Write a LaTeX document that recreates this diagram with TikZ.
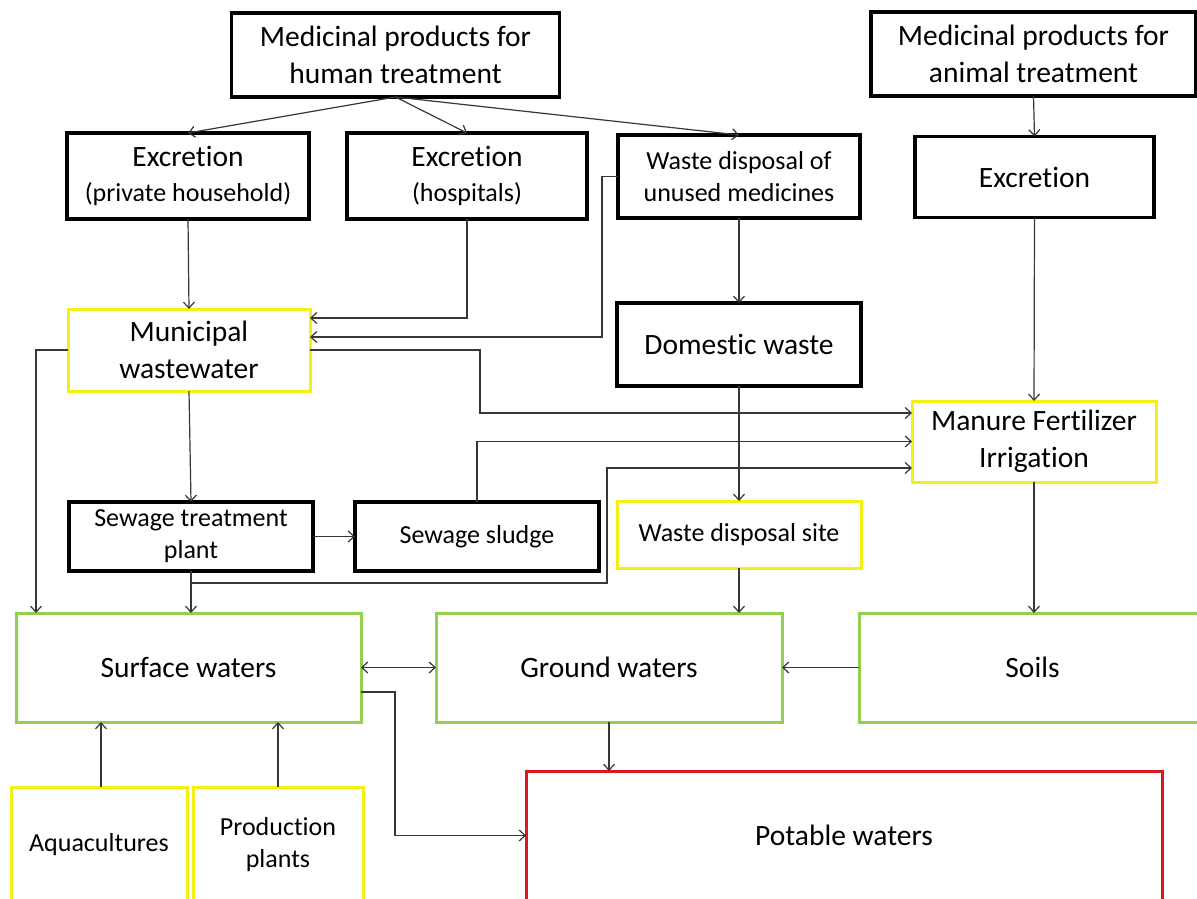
\documentclass[tikz,border=0pt]{standalone}
\usepackage{fontspec}
\setmainfont{Carlito}[Ligatures=NoCommon]
\usepackage{tikz}
\usetikzlibrary{arrows.meta, positioning}

\definecolor{boxyellow}{RGB}{245,240,20}
\definecolor{boxgreen}{RGB}{146,208,80}
\definecolor{boxred}{RGB}{218,24,32}
\definecolor{connc}{RGB}{55,55,55}

\newcommand{\bigtxt}{\fontsize{29.5}{37}\selectfont}
\newcommand{\smalltxt}{\fontsize{26}{32}\selectfont}

\begin{document}
\begin{tikzpicture}[x=1pt, y=-1pt, >={Straight Barb[length=6pt,width=11pt]},
		box/.style={rectangle, inner sep=0pt, outer sep=0pt, align=center, font=\bigtxt},
		blk/.style={box, draw=black, line width=3.2pt},
		ylw/.style={box, draw=boxyellow, line width=3pt},
		grn/.style={box, draw=boxgreen, line width=3pt},
		rdb/.style={box, draw=boxred, line width=3pt},
		small/.style={font=\smalltxt},
		conn/.style={draw=connc, line width=1.2pt, ->}]
		
		\fill[white] (0,0) rectangle (1197,899);
		\clip (0,0) rectangle (1197,899);
		
		% Riga superiore
		\node [blk, minimum width=328pt, minimum height=84pt] (hum) at (395.5,55) {Medicinal products for\\human treatment};
		\node [blk, minimum width=325pt, minimum height=84pt] (ani) at (1033.5,54) {Medicinal products for\\animal treatment};
		
		% Escrezione e smaltimento
		\node [blk, minimum width=242pt, minimum height=86pt] (exhh) at (188,176) {Excretion\\[-2pt]{\smalltxt (private household)}};
		\node [blk, minimum width=240pt, minimum height=86pt] (exhosp) at (467,176) {Excretion\\[-2pt]{\smalltxt (hospitals)}};
		\node [blk, small, minimum width=242pt, minimum height=83pt] (wdum) at (739,176.5) {Waste disposal of\\unused medicines};
		\node [blk, minimum width=239pt, minimum height=81pt] (exani) at (1034.5,177) {Excretion};
		
		% Nodi centrali
		\node [ylw, minimum width=242pt, minimum height=82pt] (mww) at (189,350) {Municipal\\wastewater};
		\node [blk, minimum width=244pt, minimum height=83pt] (dom) at (739,344.5) {Domestic waste};
		\node [ylw, minimum width=244pt, minimum height=81pt] (man) at (1034,441.5) {Manure Fertilizer\\Irrigation};
		\node [blk, small, minimum width=244pt, minimum height=69pt] (stp) at (191,536.5) {Sewage treatment\\plant};
		\node [blk, small, minimum width=244pt, minimum height=69pt] (slu) at (477,536.5) {Sewage sludge};
		\node [ylw, small, minimum width=244pt, minimum height=67pt] (wds) at (739,534.5) {Waste disposal site};
		
		% Acque e suoli
		\node [grn, minimum width=345pt, minimum height=109pt] (sur) at (188.5,667.5) {Surface waters};
		\node [grn, minimum width=346pt, minimum height=109pt] (gro) at (609,667.5) {Ground waters};
		\node [grn, minimum width=347pt, minimum height=109pt] (soi) at (1032.5,667.5) {Soils};
		
		% Riga inferiore
		\node [ylw, small, minimum width=176pt, minimum height=116pt] (aqu) at (99,845) {Aquacultures};
		\node [ylw, small, minimum width=170pt, minimum height=116pt] (pro) at (278,845) {Production\\plants};
		\node [rdb, minimum width=636pt, minimum height=129pt] (pot) at (844,835.5) {Potable waters};
		
		% Collegamenti dall'alto
		\draw [conn] (hum.south) -- (exhh.north);
		\draw [conn] (hum.south) -- (exhosp.north);
		\draw [conn] (hum.south) -- (wdum.north);
		\draw [conn] (ani.south) -- (exani.north);
		
		% Verso le acque reflue
		\draw [conn] (exhh.south) -- (mww.north);
		\draw [conn] (exhosp.south) |- ([yshift=32pt]mww.east);
		\draw [conn] (wdum.west) -- ++(-16,0) |- ([yshift=13pt]mww.east);
		\draw [conn] (wdum.south) -- (dom.north);
		\draw [conn] (exani.south) -- (man.north);
		
		% Verso Manure Fertilizer Irrigation
		\draw [conn] (mww.east) -- ++(170,0) |- ([yshift=28.5pt]man.west);
		\draw [conn] (slu.north) |- (man.west);
		\draw [conn] (stp.south) ++(0,12) -- ++(416,0) |- ([yshift=-26.5pt]man.west);
		
		% Collegamenti centrali
		\draw [conn] (mww.south) -- (stp.north);
		\draw [conn] (stp.east) -- (slu.west);
		\draw [conn] (mww.west) -| ([xshift=20pt]sur.north west);
		\draw [conn] (stp.south) -- (stp.south |- sur.north);
		\draw [conn] (dom.south) -- (wds.north);
		\draw [conn] (wds.south) -- (wds.south |- gro.north);
		\draw [conn] (man.south) -- (man.south |- soi.north);
		
		% Acque
		\draw [conn, <->] (sur.east) -- (gro.west);
		\draw [conn] (soi.west) -- (gro.east);
		\draw [conn] ([yshift=-24.5pt]sur.east) -- ++(34,0) |- (pot.west);
		\draw [conn] (gro.south) -- (gro.south |- pot.north);
		\draw [conn] ([xshift=2pt]aqu.north) -- ([xshift=2pt]aqu.north |- sur.south);
		\draw [conn] (pro.north) -- (pro.north |- sur.south);
		
	\end{tikzpicture}
\end{document}
